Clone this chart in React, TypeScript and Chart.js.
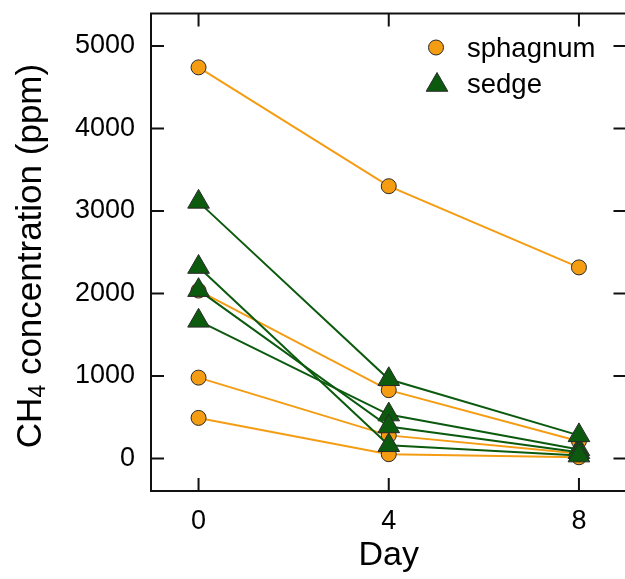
import React, { useEffect, useRef } from 'react';
import { Chart, registerables } from 'chart.js';

Chart.register(...registerables);

// ---- data ----
const days = [0, 4, 8];
const sphagnumA = [4740, 3300, 2316];
const sphagnumB = [2035, 828, 210];
const sphagnumC = [980, 280, 60];
const sphagnumD = [492, 52, 15];
const sedgeA = [3110, 960, 280];
const sedgeB = [2320, 160, 35];
const sedgeC = [2040, 388, 75];
const sedgeD = [1668, 532, 110];
const xTicks = [0, 4, 8];
const yTicks = [0, 1000, 2000, 3000, 4000, 5000];
const legendLabels = ['sphagnum', 'sedge'];
const xTitle = 'Day';
const yTitleMain = 'CH';
const yTitleSub = '4';
const yTitleRest = ' concentration (ppm)';

const ORANGE = '#F49C12';
const GREEN = '#0B5A0E';
const EDGE = '#2a2a2a';
const FONT = "'Liberation Sans', Arial, sans-serif";
const TICK = 13;
const TRI_R = 12.5;
const CIRC_R = 7.5;

const mk = (vals: number[], color: string, style: string, radius: number) => ({
  data: days.map((d, i) => ({ x: d, y: vals[i] })),
  borderColor: color,
  backgroundColor: color,
  borderWidth: 2,
  pointStyle: style,
  pointRadius: radius,
  pointHoverRadius: radius,
  pointBackgroundColor: color,
  pointBorderColor: EDGE,
  pointBorderWidth: 1,
  showLine: true,
  tension: 0,
  clip: false as any,
});

const decorPlugin = {
  id: 'decor',
  afterDraw(chart: any) {
    const { ctx, chartArea: a, scales } = chart;
    const xs = scales.x;
    const ys = scales.y;
    ctx.save();
    ctx.strokeStyle = '#111';
    ctx.lineWidth = 2;
    ctx.strokeRect(a.left, a.top, a.right - a.left, a.bottom - a.top);
    ctx.beginPath();
    for (const v of xTicks) {
      const px = xs.getPixelForValue(v);
      ctx.moveTo(px, a.bottom);
      ctx.lineTo(px, a.bottom - TICK);
      ctx.moveTo(px, a.top);
      ctx.lineTo(px, a.top + TICK);
    }
    for (const v of yTicks) {
      const py = ys.getPixelForValue(v);
      ctx.moveTo(a.left, py);
      ctx.lineTo(a.left + TICK, py);
      ctx.moveTo(a.right, py);
      ctx.lineTo(a.right - TICK, py);
    }
    ctx.stroke();

    // x title
    ctx.fillStyle = '#000';
    ctx.font = `34px ${FONT}`;
    ctx.textAlign = 'center';
    ctx.textBaseline = 'alphabetic';
    ctx.fillText(xTitle, xs.getPixelForValue(4), 565);

    // y title with subscript
    const big = `35px ${FONT}`;
    const small = `23px ${FONT}`;
    ctx.font = big;
    const w1 = ctx.measureText(yTitleMain).width;
    const w3 = ctx.measureText(yTitleRest).width;
    ctx.font = small;
    const w2 = ctx.measureText(yTitleSub).width;
    const total = w1 + w2 + w3;
    ctx.save();
    ctx.translate(41, 256);
    ctx.rotate(-Math.PI / 2);
    ctx.textAlign = 'left';
    let cx = -total / 2;
    ctx.font = big;
    ctx.fillText(yTitleMain, cx, 0);
    cx += w1;
    ctx.font = small;
    ctx.fillText(yTitleSub, cx, 4);
    cx += w2;
    ctx.font = big;
    ctx.fillText(yTitleRest, cx, 0);
    ctx.restore();

    // legend
    ctx.lineWidth = 1;
    ctx.strokeStyle = EDGE;
    ctx.fillStyle = ORANGE;
    ctx.beginPath();
    ctx.arc(436, 47.5, CIRC_R, 0, Math.PI * 2);
    ctx.fill();
    ctx.stroke();
    const r = TRI_R;
    const tx = 437;
    const ty = 85;
    ctx.fillStyle = GREEN;
    ctx.beginPath();
    ctx.moveTo(tx, ty - r);
    ctx.lineTo(tx + 0.866 * r, ty + 0.5 * r);
    ctx.lineTo(tx - 0.866 * r, ty + 0.5 * r);
    ctx.closePath();
    ctx.fill();
    ctx.stroke();
    ctx.fillStyle = '#000';
    ctx.font = `27.5px ${FONT}`;
    ctx.textAlign = 'left';
    ctx.textBaseline = 'alphabetic';
    ctx.fillText(legendLabels[0], 467, 57);
    ctx.fillText(legendLabels[1], 467, 93);
    ctx.restore();
  },
};

export default function App() {
  const ref = useRef<HTMLCanvasElement | null>(null);
  useEffect(() => {
    if (!ref.current) return;
    const chart = new Chart(ref.current, {
      type: 'line',
      data: {
        datasets: [
          mk(sedgeA, GREEN, 'triangle', TRI_R),
          mk(sedgeB, GREEN, 'triangle', TRI_R),
          mk(sedgeC, GREEN, 'triangle', TRI_R),
          mk(sedgeD, GREEN, 'triangle', TRI_R),
          mk(sphagnumA, ORANGE, 'circle', CIRC_R),
          mk(sphagnumB, ORANGE, 'circle', CIRC_R),
          mk(sphagnumC, ORANGE, 'circle', CIRC_R),
          mk(sphagnumD, ORANGE, 'circle', CIRC_R),
        ] as any,
      },
      options: {
        responsive: false,
        animation: false,
        layout: { padding: { top: 10.5, right: 7.75, left: 0, bottom: 0 } },
        plugins: { legend: { display: false }, tooltip: { enabled: false } },
        scales: {
          x: {
            type: 'linear',
            min: -1,
            max: 9,
            grid: { display: false, drawTicks: false, tickLength: 0 },
            border: { display: false },
            afterBuildTicks: (s: any) => {
              s.ticks = xTicks.map((v) => ({ value: v }));
            },
            afterFit: (s: any) => {
              s.height = 88;
              s.paddingLeft = 0;
              s.paddingRight = 0;
            },
            ticks: {
              padding: 14,
              color: '#000',
              font: { family: FONT, size: 27 },
              callback: (v: any) => String(v),
            },
          },
          y: {
            type: 'linear',
            min: -394,
            max: 5393,
            grid: { display: false, drawTicks: false, tickLength: 0 },
            border: { display: false },
            afterBuildTicks: (s: any) => {
              s.ticks = yTicks.map((v) => ({ value: v }));
            },
            afterFit: (s: any) => {
              s.width = 151;
              s.paddingTop = 0;
              s.paddingBottom = 0;
            },
            ticks: {
              padding: 16,
              color: '#000',
              font: { family: FONT, size: 27 },
              callback: (v: any) => String(v),
            },
          },
        },
      } as any,
      plugins: [decorPlugin],
    });
    return () => chart.destroy();
  }, []);
  return (
    <div style={{ position: 'absolute', left: 0, top: 0, width: 625, height: 579, overflow: 'hidden', background: '#fff' }}>
      <canvas ref={ref} width={640} height={579} style={{ display: 'block' }} />
    </div>
  );
}
